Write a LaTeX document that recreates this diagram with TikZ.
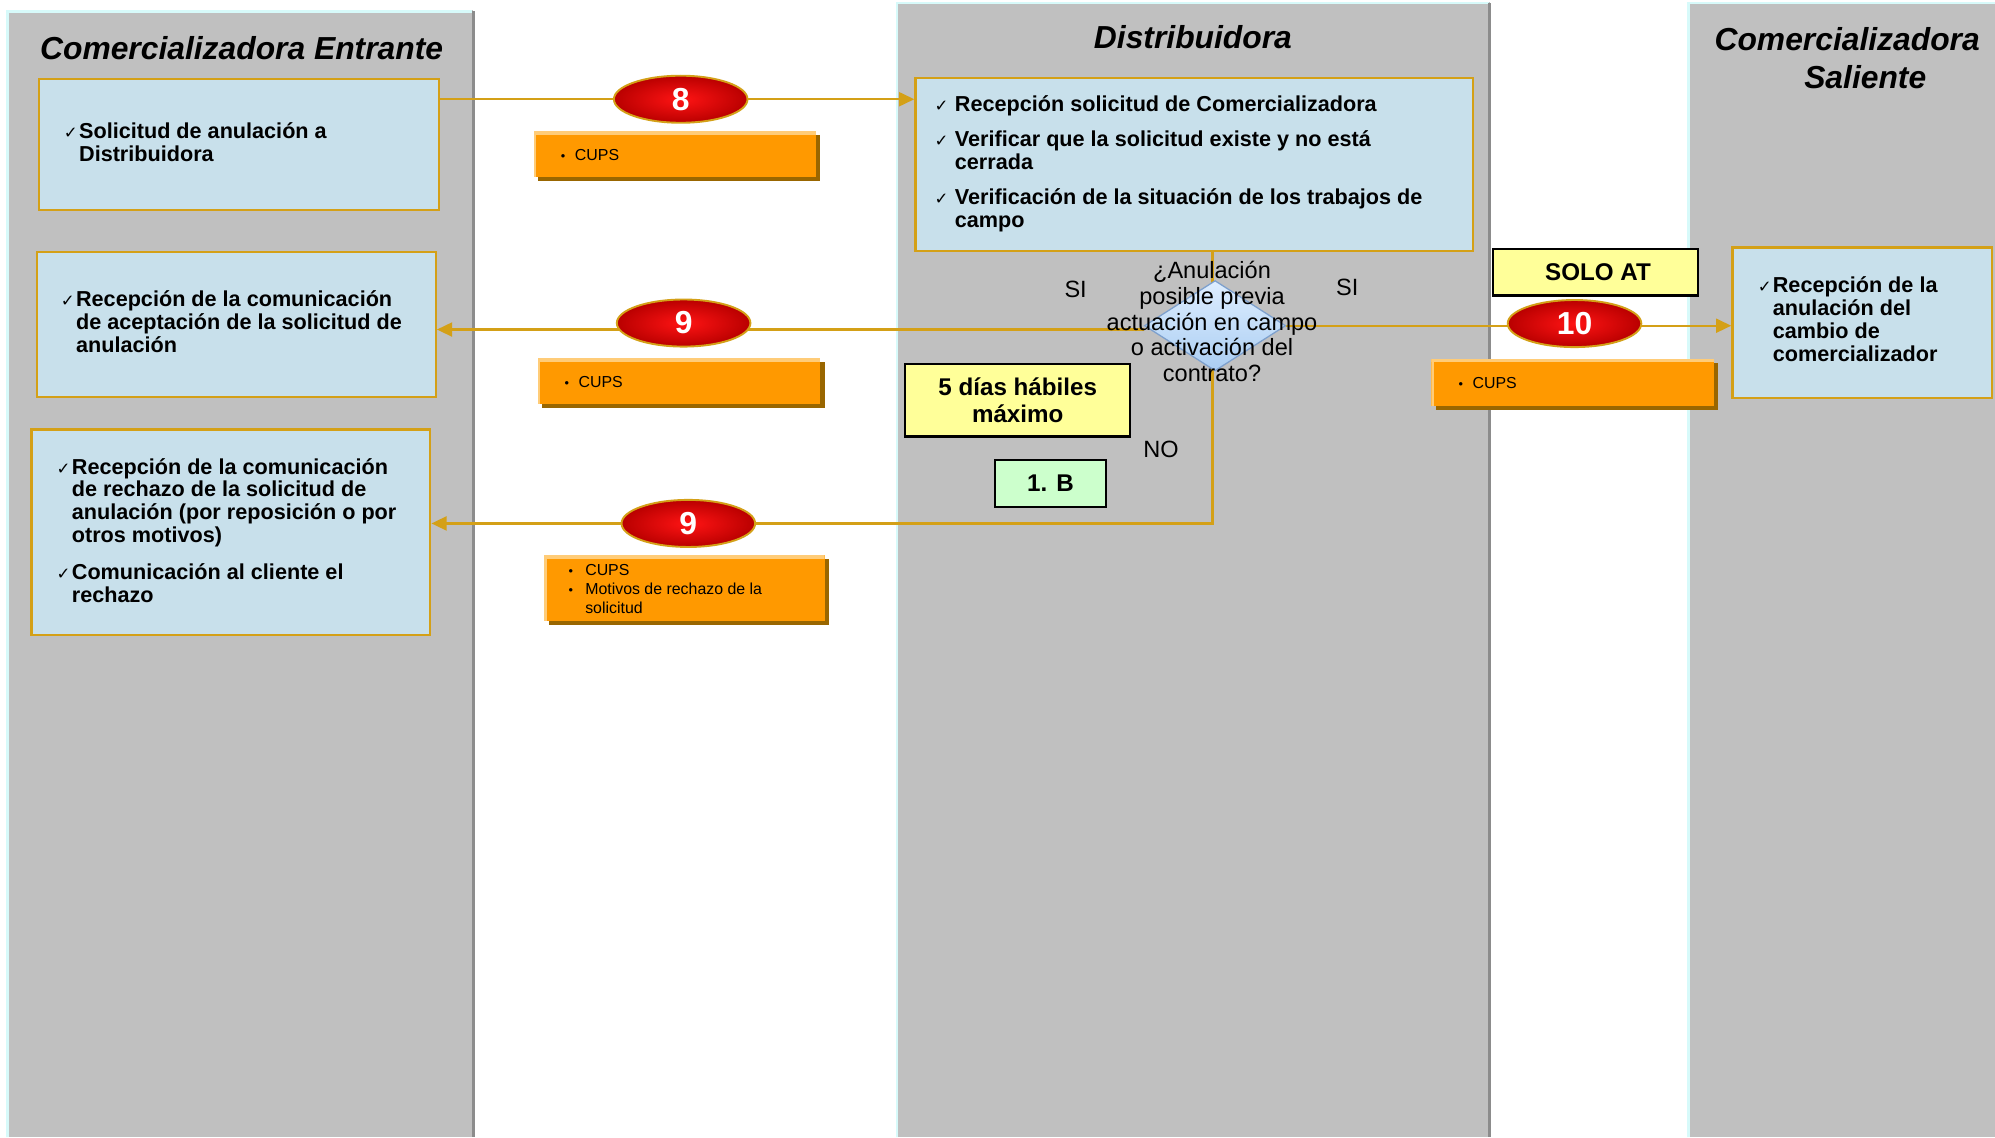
\documentclass[tikz,border=0pt]{standalone}
\usepackage{fontspec}
\setmainfont{Liberation Sans}
\newfontfamily\chkfont{DejaVu Sans}
\usetikzlibrary{arrows.meta,shapes.geometric,shadows}
\pgfdeclarelayer{background}
\pgfdeclarelayer{lines}
\pgfsetlayers{background,lines,main}
\definecolor{lanegray}{RGB}{192,192,192}
\definecolor{lanecyan}{RGB}{215,250,250}
\definecolor{laneshade}{RGB}{140,140,140}
\definecolor{boxblue}{RGB}{200,224,235}
\definecolor{gold}{RGB}{212,160,23}
\definecolor{orangebox}{RGB}{255,153,0}
\definecolor{orangelight}{RGB}{255,204,120}
\definecolor{orangeshadow}{RGB}{153,102,0}
\definecolor{yellowbox}{RGB}{255,255,153}
\definecolor{greenbox}{RGB}{204,255,204}
\definecolor{ovalin}{RGB}{255,20,20}
\definecolor{ovalout}{RGB}{185,0,0}
\definecolor{diatop}{RGB}{222,238,255}
\definecolor{diabot}{RGB}{170,205,242}
\definecolor{diaedge}{RGB}{125,160,205}
\newcommand\ck[1][11pt]{\makebox[#1][l]{\chkfont\fontsize{13pt}{13pt}\selectfont ✓}}
\newcommand\bul[1][11pt]{\makebox[#1][l]{\fontsize{10pt}{10pt}\selectfont\textbullet}}
\begin{document}
\begin{tikzpicture}[x=1pt,y=-1pt,
  bluebox/.style={draw=gold, line width=1.8pt, fill=boxblue, inner sep=0, anchor=north west},
  listtext/.style={anchor=base west, inner sep=0, font=\fontsize{17pt}{18pt}\selectfont\bfseries},
  lanetitle/.style={anchor=base, inner sep=0, font=\fontsize{25pt}{25pt}\selectfont\bfseries\itshape},
  orbox/.style={fill=orangebox, inner sep=0, anchor=north west,
     drop shadow={shadow xshift=3.5pt, shadow yshift=-3.5pt, fill=orangeshadow, opacity=1},
     path picture={\fill[orangelight] (path picture bounding box.north west) rectangle ([yshift=-3pt]path picture bounding box.north east);
                   \fill[orangelight] (path picture bounding box.north west) rectangle ([xshift=2pt]path picture bounding box.south west);}},
  ortext/.style={anchor=base west, inner sep=0, font=\fontsize{12.5pt}{15.1pt}\selectfont},
  numoval/.style={ellipse, draw=gold, line width=1.5pt, inner color=ovalin, outer color=ovalout,
     minimum width=105, minimum height=37, inner sep=0, text=white, font=\fontsize{25pt}{25pt}\selectfont\bfseries},
  ybox/.style={draw=black, line width=1.8pt, fill=yellowbox, inner sep=0, align=center,
     font=\fontsize{19pt}{21pt}\selectfont\bfseries},
  plain/.style={anchor=base, inner sep=0, font=\fontsize{18.5pt}{20.2pt}\selectfont},
  conn/.style={draw=gold, line width=1.8pt},
  tip/.style={-{Triangle[length=12pt,width=11pt]}}
]
\useasboundingbox (0,0) rectangle (1568,894);

\begin{pgfonlayer}{background}
\fill[white] (0,0) rectangle (1568,894);
\fill[lanegray] (4.8,7.9) rectangle (372,894);
\fill[lanegray] (704,1.3) rectangle (1171,894);
\fill[lanegray] (1326,1.3) rectangle (1568,894);
\draw[lanecyan, line width=2pt] (5.8,894) -- (5.8,8.9) -- (371,8.9);
\draw[lanecyan, line width=2pt] (705,894) -- (705,2.3) -- (1170,2.3);
\draw[lanecyan, line width=2pt] (1327,894) -- (1327,2.3) -- (1568,2.3);
\draw[laneshade, line width=2pt] (372,9) -- (372,894);
\draw[laneshade, line width=2pt] (1170.5,2.5) -- (1170.5,894);
\end{pgfonlayer}

% lane titles
\node[lanetitle] (T1) at (189.9,46.7) {Comercializadora Entrante};
\node[lanetitle] (T2) at (937.6,37.9) {Distribuidora};
\node[lanetitle] (T3a) at (1451.8,39.3) {Comercializadora};
\node[lanetitle] (T3b) at (1466,69.6) {Saliente};

% blue boxes
\node[bluebox, minimum width=314, minimum height=103] (A1) at (30,61) {};
\node[bluebox, minimum width=313.5, minimum height=114] (A2) at (28.1,197) {};
\node[bluebox, minimum width=313.5, minimum height=161.6] (A3) at (23.8,336.7) {};
\node[bluebox, minimum width=438, minimum height=136] (D1) at (718.6,60.4) {};
\node[bluebox, minimum width=204, minimum height=118] (R1) at (1360.7,193.7) {};

\node[listtext] (A1t) at (50,108.7) {\begin{tabular}[t]{@{}l@{}l@{}}
\ck[12pt] & Solicitud de anulación a\\ & Distribuidora\end{tabular}};
\node[listtext] (A2t) at (47.6,241) {\begin{tabular}[t]{@{}l@{}l@{}}
\ck[12pt] & Recepción de la comunicación\\ & de aceptación de la solicitud de\\ & anulación\end{tabular}};
\node[listtext] (A3t) at (44.3,372.6) {\begin{tabular}[t]{@{}l@{}l@{}}
\ck[12pt] & Recepción de la comunicación\\ & de rechazo de la solicitud de\\ & anulación (por reposición o por\\ & otros motivos)\\[10.6pt]
\ck[12pt] & Comunicación al cliente el\\ & rechazo\end{tabular}};
\node[listtext] (D1t) at (734.3,87.6) {\begin{tabular}[t]{@{}l@{}l@{}}
\ck[16pt] & Recepción solicitud de Comercializadora\\[9.5pt]
\ck[16pt] & Verificar que la solicitud existe y no está\\ & cerrada\\[10pt]
\ck[16pt] & Verificación de la situación de los trabajos de\\ & campo\end{tabular}};
\node[listtext] (R1t) at (1381.5,230.2) {\begin{tabular}[t]{@{}l@{}l@{}}
\ck[11.7pt] & Recepción de la\\ & anulación del\\ & cambio de\\ & comercializador\end{tabular}};

% orange boxes
\node[orbox, minimum width=221.7, minimum height=36.2] (O1) at (419.3,102.7) {};
\node[orbox, minimum width=222, minimum height=36] (O2) at (422.6,281.2) {};
\node[orbox, minimum width=220.6, minimum height=51.5] (O3) at (427.4,436) {};
\node[orbox, minimum width=222, minimum height=37] (O4) at (1124.8,281.6) {};
\node[ortext] (O1t) at (440.7,126.3) {\bul CUPS};
\node[ortext] (O2t) at (443.6,304.8) {\bul CUPS};
\node[ortext] (O4t) at (1146.2,305.4) {\bul CUPS};
\node[ortext] (O3t) at (446.8,452) {\begin{tabular}[t]{@{}l@{}l@{}}
\bul[13pt] & CUPS\\ \bul[13pt] & Motivos de rechazo de la\\ & solicitud\end{tabular}};

% decision diamond
\node[diamond, minimum width=111, minimum height=71, inner sep=0, draw=diaedge, line width=1pt,
      top color=diatop, bottom color=diabot] (Dia) at (955,256) {};
\node[plain] (DiaT) at (952.6,219) {\begin{tabular}[t]{@{}c@{}}¿Anulación\\ posible previa\\ actuación en campo\\ o activación del\\ contrato?\end{tabular}};
\node[plain] (SI1) at (845.4,233.5) {SI};
\node[plain] (SI2) at (1058.9,232.4) {SI};
\node[plain] (NO) at (912.5,359.9) {NO};

% yellow / green boxes
\node[ybox, minimum width=177, minimum height=56.7] (Dias) at (799.9,314.7) {5 días hábiles\\máximo};
\node[ybox, minimum width=161, minimum height=36.6] (Solo) at (1254,213.9) {\hspace*{4pt}SOLO AT};
\node[ybox, fill=greenbox, minimum width=87.7, minimum height=37] (B1) at (825.6,380.1) {1. B};

% numbered ovals
\node[numoval] (E8) at (535,78) {8};
\node[numoval] (E9a) at (537.3,253.9) {9};
\node[numoval] (E9b) at (541,411.4) {9};
\node[numoval] (E10) at (1237.5,254.3) {10};

% connectors
\begin{pgfonlayer}{lines}
\draw[conn, tip] (A1.east |- E8) -- (D1.west |- E8);
\draw[conn, tip] ([yshift=-3pt]Dia.west) -- ([yshift=-3pt]Dia.west -| A2.east);
\draw[conn, tip] (Dia.east) -- (Dia.east -| R1.west);
\draw[conn, tip] ([xshift=-2pt]Dia.north |- D1.south) |- (A3.east |- E9b);
\end{pgfonlayer}
\end{tikzpicture}
\end{document}
